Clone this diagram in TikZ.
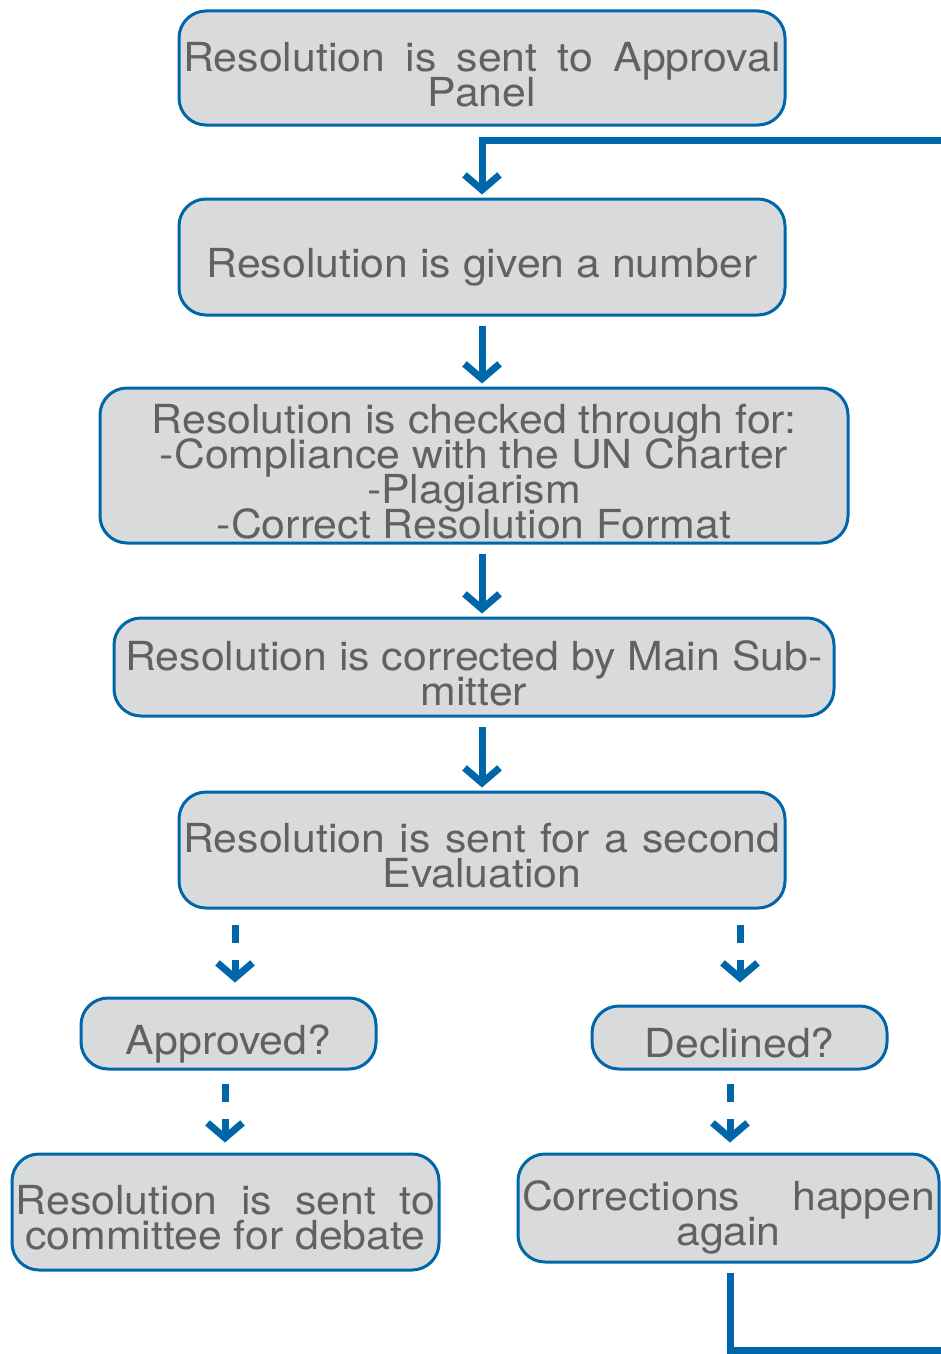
\documentclass[tikz,border=0pt]{standalone}
\usepackage{fontspec}
\setmainfont{TeX Gyre Heros}[FakeStretch=1.07]
\usetikzlibrary{arrows.meta}
\definecolor{bblue}{RGB}{0,102,170}
\definecolor{bfill}{RGB}{217,218,220}
\definecolor{tgray}{RGB}{96,97,99}
\newcommand\boxlines[1]{\vtop{\baselineskip=35pt\lineskiplimit=-200pt\lineskip=0pt\halign{\hfil##\hfil\cr#1\crcr}}}
\newcommand\justline[2]{\makebox[#1][s]{#2}}
\begin{document}
\begin{tikzpicture}[x=1pt,y=-1pt,
  box/.style={draw=bblue,line width=3pt,fill=bfill,rounded corners=27pt,inner sep=0pt,
    text=tgray,font=\fontsize{40}{35}\selectfont},
  tipA/.tip={Straight Barb[length=15pt,width=35pt]},
  flow/.style={draw=bblue,line width=7pt,line join=miter,-{tipA},shorten <=9pt,shorten >=3pt},
  dflow/.style={draw=bblue,line width=7pt,dash pattern=on 18pt off 17pt,-{tipA}}]
\useasboundingbox (0,0) rectangle (941,1354);
\clip (0,0) rectangle (941,1354);

\node[box,minimum width=606pt,minimum height=114pt,text height=30pt,text depth=24pt] (b1) at (482,68)
  {\boxlines{\justline{597pt}{Resolution is sent to Approval}\cr Panel}};
\node[box,minimum width=606pt,minimum height=116pt,text height=60pt,text depth=20pt] (b2) at (482,257)
  {\boxlines{Resolution is given a number}};
\node[box,minimum width=748pt,minimum height=155pt,text height=30pt,text depth=95pt] (b3) at (474,465.5)
  {\boxlines{Resolution is checked through for:\cr -Compliance with the UN Charter\cr -Plagiarism\cr -Correct Resolution Format}};
\node[box,minimum width=720pt,minimum height=98pt,text height=30pt,text depth=24pt] (b4) at (474,667)
  {\boxlines{Resolution is corrected by Main Sub-\cr mitter}};
\node[box,minimum width=606pt,minimum height=116pt,text height=30pt,text depth=26pt] (b5) at (482,850)
  {\boxlines{\justline{597pt}{Resolution is sent for a second}\cr Evaluation}};
\node[box,minimum width=295pt,minimum height=71pt,text height=50pt,text depth=9pt] (appr) at (228.5,1033.5)
  {\boxlines{Approved?}};
\node[box,minimum width=295pt,minimum height=63pt,text height=45pt,text depth=6pt] (decl) at (739.5,1037.5)
  {\boxlines{Declined?}};
\node[box,minimum width=427pt,minimum height=116pt,text height=30pt,text depth=26pt] (comm) at (225.5,1212)
  {\boxlines{\justline{419pt}{Resolution is sent to}\cr committee for debate}};
\node[box,minimum width=421pt,minimum height=108pt,text height=30pt,text depth=26pt] (corr) at (728.5,1208)
  {\boxlines{\justline{413pt}{Corrections happen}\cr again}};

\coordinate (xA) at (235,0);
\coordinate (xB) at (740,0);
\coordinate (xC) at (225,0);
\coordinate (xD) at (730,0);
\coordinate (loopBR) at (970,1350);
\coordinate (loopTR) at (970,140);

\draw[flow] (b2.south) -- (b2.south |- b3.north);
\draw[flow] (b2.south |- b3.south) -- (b2.south |- b4.north);
\draw[flow] (b5.north |- b4.south) -- (b5.north);
\draw[flow] (xD |- corr.south) -- (xD |- loopBR) -- (loopBR) -- (loopTR) -- (b2.north |- loopTR) -- (b2.north);

\draw[dflow,shorten <=15pt,shorten >=14pt] (xA |- b5.south) -- (xA |- appr.north);
\draw[dflow,shorten <=15pt,shorten >=22pt] (xB |- b5.south) -- (xB |- decl.north);
\draw[dflow,shorten <=13pt,shorten >=10pt] (xC |- appr.south) -- (xC |- comm.north);
\draw[dflow,shorten <=13pt,shorten >=10pt] (xD |- decl.south) -- (xD |- corr.north);
\end{tikzpicture}
\end{document}
